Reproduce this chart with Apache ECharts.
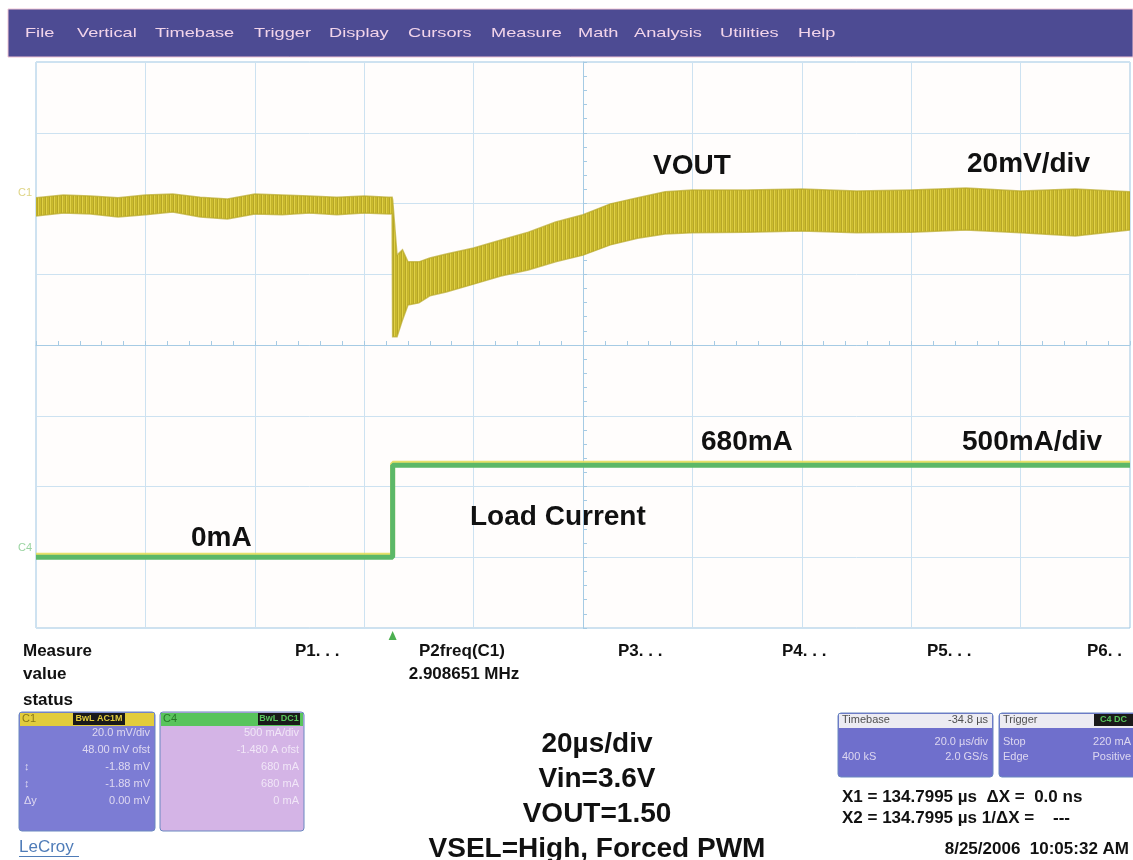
<!DOCTYPE html>
<html>
<head>
<meta charset="utf-8">
<script src="https://cdn.jsdelivr.net/npm/echarts@6/dist/echarts.min.js"></script>
<style>
html, body { margin: 0; padding: 0; background: #fff; }
#chart { width: 1133px; height: 860px; }
</style>
</head>
<body>
<div id="chart"></div>
<script>
// time in µs (20 µs/div), VOUT ripple envelope in mV (20 mV/div, 0 = centre line)
const vTime = [-100, -95, -90, -85, -80, -75, -70, -65, -60, -55, -50, -45, -40, -35.5, -34.9,
  -34.8, -34, -33, -32, -30, -28, -25, -20, -15, -10, -5, 0, 5, 10, 15, 20, 30, 40, 50, 60, 70, 80, 90, 100];
const vUpper = [41.6, 42.4, 42.1, 41.6, 42.4, 42.7, 41.8, 41.3, 42.7, 42.4, 42.1, 41.8, 42.1, 41.8, 41.8,
  41.0, 25.4, 26.9, 23.5, 23.5, 24.6, 25.7, 27.4, 29.7, 31.9, 34.8, 36.8, 39.9, 41.6, 43.3, 43.8, 43.8, 44.1, 43.5, 43.8, 44.4, 43.5, 44.1, 43.3];
const vLower = [36.5, 37.3, 37.0, 36.2, 36.8, 37.6, 36.2, 35.6, 37.0, 36.8, 37.3, 36.8, 37.3, 37.0, 37.0,
  2.3, 2.3, 7.1, 11.3, 11.9, 13.9, 15.0, 17.2, 19.5, 21.2, 23.5, 25.4, 28.3, 30.2, 31.4, 31.7, 31.9, 32.2, 31.7, 31.9, 32.5, 31.7, 30.8, 32.5];

// load current in mA (500 mA/div)
const iTime = [-100, -34.8, -34.8, 100];
const iLoad = [0, 0, 650, 650];
const triggerTime = -34.8;

const menuItems = ['File', 'Vertical', 'Timebase', 'Trigger', 'Display', 'Cursors', 'Measure', 'Math', 'Analysis', 'Utilities', 'Help'];
const menuX = [25, 77, 155, 254, 329, 408, 491, 578, 634, 720, 798];
const paramLabels = ['P1. . .', 'P3. . .', 'P4. . .', 'P5. . .', 'P6. .'];
const paramX = [295, 618, 782, 927, 1087];
const notes = ['20µs/div', 'Vin=3.6V', 'VOUT=1.50', 'VSEL=High, Forced PWM'];

const FONT = '"Liberation Sans", Arial, sans-serif';

function stripePattern() {
  const c = document.createElement('canvas');
  c.width = 4; c.height = 4;
  const ctx = c.getContext('2d');
  const cols = ['#cbbb2c', '#b6a628', '#e0d046', '#c4b42c'];
  cols.forEach((col, i) => { ctx.fillStyle = col; ctx.fillRect(i, 0, 1, 4); });
  return { image: c, repeat: 'repeat' };
}
const stripes = stripePattern();

function renderBand(params, api) {
  if (params.dataIndex !== 0) {
    return;
  }
  const top = vTime.map((t, i) => api.coord([t, vUpper[i]]));
  const bottom = vTime.map((t, i) => api.coord([t, vLower[i]])).reverse();
  return {
    type: 'polygon',
    shape: { points: top.concat(bottom) },
    style: { fill: stripes, stroke: 'rgba(185,170,40,0.7)', lineWidth: 1.5 }
  };
}

function txt(x, y, text, size, opts) {
  return Object.assign({
    type: 'text', x: x, y: y, z: 10,
    style: Object.assign({ text: text, font: 'bold ' + size + 'px ' + FONT, fill: '#111', textVerticalAlign: 'middle' }, (opts && opts.style) || {})
  }, (opts && opts.el) || {});
}

function panel(x, y, w, headH, bodyH, headColor, bodyColor) {
  return [
    { type: 'rect', shape: { x: x, y: y, width: w, height: headH + bodyH, r: 3 }, style: { fill: bodyColor, stroke: '#6a88c0', lineWidth: 1 }, z: 5 },
    { type: 'rect', shape: { x: x + 1, y: y + 1, width: w - 2, height: headH }, style: { fill: headColor }, z: 6 }
  ];
}

function small(x, y, text, align, color) {
  return {
    type: 'text', x: x, y: y, z: 10,
    style: { text: text, font: '11px ' + FONT, fill: color || '#eee8f6', textAlign: align || 'left', textVerticalAlign: 'middle', opacity: 0.85 }
  };
}

function tag(x, y, w, text, color) {
  return [
    { type: 'rect', shape: { x: x, y: y, width: w, height: 12 }, style: { fill: '#1a1a1a' }, z: 7 },
    { type: 'text', x: x + w / 2, y: y + 6, z: 8, style: { text: text, font: 'bold 9px ' + FONT, fill: color, textAlign: 'center', textVerticalAlign: 'middle' } }
  ];
}

let graphics = [];
// menu bar
graphics.push({ type: 'rect', shape: { x: 8, y: 9, width: 1125, height: 48 }, style: { fill: '#4d4b93', stroke: '#f0c4d4', lineWidth: 1 }, z: 1 });
menuItems.forEach((m, i) => {
  graphics.push({
    type: 'text', x: menuX[i], y: 33, scaleX: 1.4, z: 2,
    style: { text: m, font: '13px ' + FONT, fill: '#f2d4ea', textVerticalAlign: 'middle' }
  });
});
// channel markers
graphics.push(small(18, 193, 'C1', 'left', '#d8cc70'));
graphics.push(small(18, 548, 'C4', 'left', '#88cc90'));
// trace annotations
graphics.push(txt(653, 166, 'VOUT', 28));
graphics.push(txt(967, 164, '20mV/div', 28));
graphics.push(txt(701, 442, '680mA', 28));
graphics.push(txt(962, 442, '500mA/div', 28));
graphics.push(txt(470, 517, 'Load Current', 28));
graphics.push(txt(191, 538, '0mA', 28));
// measure row
graphics.push(txt(23, 651, 'Measure', 17));
graphics.push(txt(23, 674, 'value', 17));
graphics.push(txt(23, 700, 'status', 17));
paramLabels.forEach((p, i) => graphics.push(txt(paramX[i], 651, p, 17)));
graphics.push(txt(462, 651, 'P2freq(C1)', 17, { style: { textAlign: 'center' } }));
graphics.push(txt(464, 674, '2.908651 MHz', 17, { style: { textAlign: 'center' } }));
// test conditions
notes.forEach((n, i) => graphics.push(txt(597, 744 + i * 35, n, 28, { style: { textAlign: 'center' } })));
// cursor readout
graphics.push(txt(842, 797, 'X1 = 134.7995 µs  ΔX =  0.0 ns', 17));
graphics.push(txt(842, 818, 'X2 = 134.7995 µs 1/ΔX =    ---', 17));
graphics.push(txt(1129, 849, '8/25/2006  10:05:32 AM', 17, { style: { textAlign: 'right' } }));

// C1 / C4 channel boxes
graphics = graphics.concat(panel(19, 712, 136, 13, 106, '#e2cc3c', '#7c7cd4'));
graphics = graphics.concat(tag(73, 713, 52, 'BwL AC1M', '#e2cc3c'));
graphics.push(small(22, 719, 'C1', 'left', '#7a6a10'));
['20.0 mV/div', '48.00 mV ofst', '-1.88 mV', '-1.88 mV', '0.00 mV'].forEach((s, i) => graphics.push(small(150, 733 + i * 17, s, 'right')));
['', '', '↕', '↕', 'Δy'].forEach((s, i) => graphics.push(small(24, 733 + i * 17, s, 'left')));
graphics = graphics.concat(panel(160, 712, 144, 13, 106, '#58c45c', '#d4b4e6'));
graphics = graphics.concat(tag(258, 713, 42, 'BwL DC1', '#58c45c'));
graphics.push(small(163, 719, 'C4', 'left', '#1e6a20'));
['500 mA/div', '-1.480 A ofst', '680 mA', '680 mA', '0 mA'].forEach((s, i) => graphics.push(small(299, 733 + i * 17, s, 'right', '#f6eefa')));
graphics.push({ type: 'text', x: 19, y: 847, z: 10, style: { text: 'LeCroy', font: '17px ' + FONT, fill: '#4f7cb8', textVerticalAlign: 'middle' } });
graphics.push({ type: 'rect', shape: { x: 19, y: 856, width: 60, height: 1 }, style: { fill: '#4f7cb8' }, z: 10 });

// timebase / trigger boxes
graphics = graphics.concat(panel(838, 713, 155, 14, 50, '#ecebf2', '#6f6fcc'));
graphics.push(small(842, 720, 'Timebase', 'left', '#333'));
graphics.push(small(988, 720, '-34.8 µs', 'right', '#333'));
graphics.push(small(988, 742, '20.0 µs/div', 'right'));
graphics.push(small(842, 757, '400 kS', 'left'));
graphics.push(small(988, 757, '2.0 GS/s', 'right'));
graphics = graphics.concat(panel(999, 713, 140, 14, 50, '#ecebf2', '#6f6fcc'));
graphics.push(small(1003, 720, 'Trigger', 'left', '#333'));
graphics = graphics.concat(tag(1094, 714, 39, 'C4 DC', '#58c45c'));
graphics.push(small(1003, 742, 'Stop', 'left'));
graphics.push(small(1131, 742, '220 mA', 'right'));
graphics.push(small(1003, 757, 'Edge', 'left'));
graphics.push(small(1131, 757, 'Positive', 'right'));

const gridColor = '#cde2f1';
const crossColor = '#a6cbe4';

const chart = echarts.init(document.getElementById('chart'));
chart.setOption({
  backgroundColor: '#ffffff',
  animation: false,
  grid: { left: 36, right: 3, top: 62, height: 566, show: true, borderColor: '#9ec4e0', borderWidth: 1, backgroundColor: '#fffdfc' },
  xAxis: {
    type: 'value', min: -100, max: 100, interval: 20,
    axisLine: { show: true, onZero: true, lineStyle: { color: crossColor, width: 1 } },
    axisTick: { show: true, inside: true, length: 4, lineStyle: { color: crossColor } },
    minorTick: { show: true, splitNumber: 5, length: 4, lineStyle: { color: crossColor } },
    splitLine: { show: true, lineStyle: { color: gridColor, width: 1 } },
    axisLabel: { show: false }
  },
  yAxis: [
    {
      type: 'value', min: -80, max: 80, interval: 20,
      axisLine: { show: true, onZero: true, lineStyle: { color: crossColor, width: 1 } },
      axisTick: { show: true, inside: true, length: 4, lineStyle: { color: crossColor } },
      minorTick: { show: true, splitNumber: 5, length: 4, lineStyle: { color: crossColor } },
      splitLine: { show: true, lineStyle: { color: gridColor, width: 1 } },
      axisLabel: { show: false }
    },
    { type: 'value', min: -500, max: 3500, interval: 500, show: false }
  ],
  graphic: graphics,
  series: [
    {
      name: 'VOUT',
      type: 'custom',
      renderItem: renderBand,
      data: vTime.map((t, i) => [t, vUpper[i], vLower[i]]),
      encode: { x: 0, y: [1, 2] },
      clip: true,
      z: 3
    },
    {
      name: 'Load Current',
      type: 'line',
      yAxisIndex: 1,
      data: iTime.map((t, i) => [t, iLoad[i]]),
      showSymbol: false,
      lineStyle: { color: '#5cb868', width: 5, shadowColor: 'rgba(228,222,90,0.9)', shadowOffsetY: -2, shadowBlur: 0 },
      z: 4
    }
  ]
});

// trigger position arrow under the grid
const tx = chart.convertToPixel({ xAxisIndex: 0 }, triggerTime);
chart.setOption({
  graphic: graphics.concat([{ type: 'polygon', shape: { points: [[tx - 4, 640], [tx + 4, 640], [tx, 631]] }, style: { fill: '#4caf50' }, z: 10 }])
});
</script>
</body>
</html>
